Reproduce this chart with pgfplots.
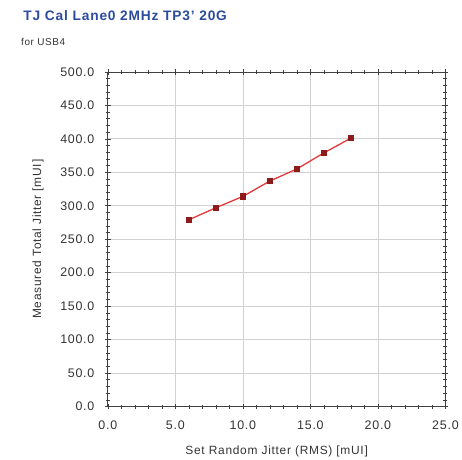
\documentclass[border=0pt]{standalone}
\usepackage{fontspec}
\setmainfont{Liberation Sans}[LetterSpace=6]
\usepackage{pgfplots}
\pgfplotsset{compat=1.18}
\definecolor{titleblue}{HTML}{2B4C9E}
\definecolor{linered}{HTML}{E23A3A}
\definecolor{markred}{HTML}{8E1B1B}
\definecolor{txtgray}{HTML}{333333}
\begin{document}
\begin{tikzpicture}[x=1bp,y=1bp]
\begin{axis}[
  at={(0,0)}, anchor=south west,
  scale only axis, width=338bp, height=335bp,
  xmin=0, xmax=25, ymin=0, ymax=500,
  xtick={0,5,...,25}, ytick={0,50,...,500},
  minor x tick num=4, minor y tick num=4,
  tick align=center,
  major tick length=6bp, minor tick length=4bp,
  every tick/.style={black!75, line width=0.6pt},
  grid=major, major grid style={black!18, line width=0.8pt},
  axis line style={black!75, line width=0.8pt},
  /pgf/number format/assume math mode=true,
  /pgf/number format/.cd, fixed, fixed zerofill, precision=1, 1000 sep={},
  /pgfplots/.cd,
  ticklabel style={font=\fontsize{12.5}{14}\selectfont, text=txtgray},
  yticklabel style={anchor=east, xshift=-7bp},
  xticklabel style={anchor=north, yshift=-8bp},
  xlabel={Set Random Jitter (RMS) [mUI]},
  ylabel={Measured Total Jitter [mUI]},
  label style={font=\fontsize{12}{14}\selectfont, text=txtgray},
  xlabel style={at={(axis description cs:0.5,-0.133)}, anchor=center},
  ylabel style={at={(axis description cs:-0.207,0.5)}, anchor=center},
]
\addplot[color=linered, line width=1.3pt, mark=square*, mark size=2.5pt,
  mark options={fill=markred, draw=markred}]
  coordinates {(6,279) (8,297) (10,314) (12,337) (14,355) (16,379) (18,401)};
\end{axis}
\node[anchor=base west, text=titleblue, font=\fontsize{13.8}{15}\selectfont\bfseries] at (-88,386) {TJ Cal Lane0 2MHz TP3' 20G};
\node[anchor=base west, text=txtgray, font=\fontsize{10}{12}\selectfont, inner sep=0pt] at (-87,361) {for USB4};
\path[use as bounding box] (-108,-52) rectangle (354,407);
\end{tikzpicture}
\end{document}
